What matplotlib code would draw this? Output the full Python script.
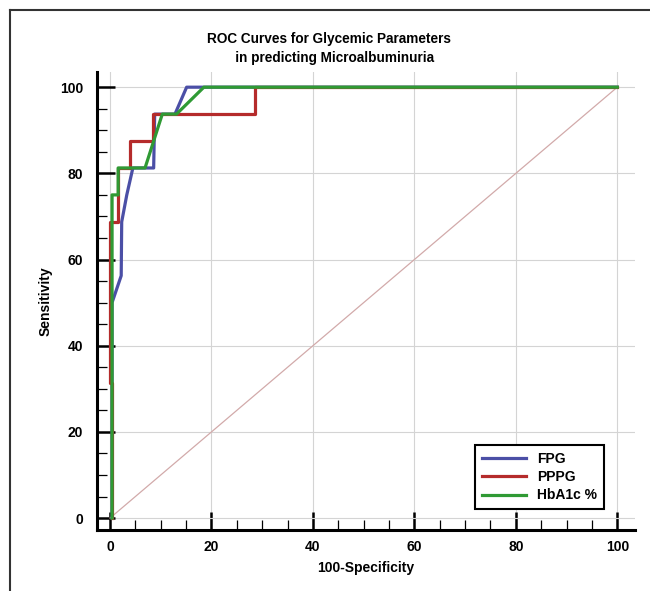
import matplotlib
matplotlib.use("Agg")
import matplotlib.pyplot as plt
from matplotlib.lines import Line2D
from matplotlib.ticker import MultipleLocator

plt.rcParams["font.family"] = ["Liberation Sans", "DejaVu Sans"]

# ROC points (100-Specificity, Sensitivity)
fpg_x = [0.4, 0.4, 2.2, 2.3, 3.3, 4.5, 8.6, 8.8, 12.8, 15.1, 100]
fpg_y = [0, 50, 56.25, 68.75, 75, 81.25, 81.25, 93.75, 93.75, 100, 100]

pppg_x = [0.4, 0.4, 0.0, 0.0, 1.6, 1.6, 4.0, 4.0, 8.5, 8.5, 28.6, 28.6, 100]
pppg_y = [0, 31.25, 31.25, 68.75, 68.75, 81.25, 81.25, 87.5, 87.5, 93.75,
          93.75, 100, 100]

hba1c_x = [0.4, 0.4, 1.6, 1.6, 6.9, 10.3, 13.1, 18.5, 100]
hba1c_y = [0, 75, 75, 81.25, 81.25, 93.75, 93.75, 100, 100]

series = [
    ("FPG", fpg_x, fpg_y, "#4b4fa6"),
    ("PPPG", pppg_x, pppg_y, "#b52b2b"),
    ("HbA1c %", hba1c_x, hba1c_y, "#2f9a34"),
]

fig = plt.figure(figsize=(6.5, 5.91), dpi=100)
ax = fig.add_axes([0.149, 0.103, 0.828, 0.775])

# reference diagonal
ax.plot([0, 100], [0, 100], color="#d2aaaa", lw=0.9, zorder=2)

for name, xs, ys, col in series:
    ax.plot(xs, ys, color=col, lw=2.3, label=name, zorder=3)

ax.set_xlim(-2.6, 103.5)
ax.set_ylim(-2.8, 103.5)
ax.xaxis.set_major_locator(MultipleLocator(20))
ax.yaxis.set_major_locator(MultipleLocator(20))
ax.xaxis.set_minor_locator(MultipleLocator(5))
ax.yaxis.set_minor_locator(MultipleLocator(5))
ax.grid(True, which="major", color="#d4d4d4", lw=0.8, zorder=0)

for s in ["top", "right"]:
    ax.spines[s].set_visible(False)
for s in ["left", "bottom"]:
    ax.spines[s].set_linewidth(2.2)

ax.tick_params(which="major", direction="in", length=13, width=1.8, pad=10,
               labelsize=10)
ax.tick_params(axis="x", which="major", pad=7)
ax.tick_params(which="minor", direction="in", length=7, width=0.9)
for lab in ax.get_xticklabels() + ax.get_yticklabels():
    lab.set_fontweight("bold")

ax.set_xlabel("100-Specificity", fontsize=10, fontweight="bold", labelpad=5)
ax.set_ylabel("Sensitivity", fontsize=10, fontweight="bold", labelpad=5)

fig.text(0.506, 0.918, "ROC Curves for Glycemic Parameters\n   in predicting Microalbuminuria",
         ha="center", va="center", fontsize=9.8, fontweight="bold",
         linespacing=1.4)

leg = ax.legend(loc="lower right", bbox_to_anchor=(0.956, 0.03), fancybox=False,
                edgecolor="black", framealpha=1, handlelength=3.2,
                prop={"weight": "bold", "size": 10}, borderpad=0.5,
                labelspacing=0.3)
leg.get_frame().set_linewidth(1.5)

# outer frame of the screenshot
fig.add_artist(Line2D([0.0154, 0.0154], [0, 0.983], transform=fig.transFigure,
                      color="#333333", lw=1.5))
fig.add_artist(Line2D([0.0154, 1.0], [0.983, 0.983], transform=fig.transFigure,
                      color="#333333", lw=1.5))

fig.savefig("out.png", dpi=100)
